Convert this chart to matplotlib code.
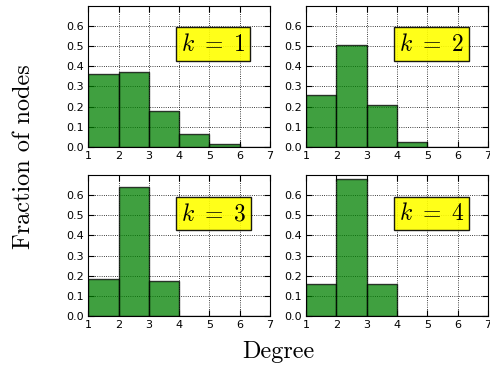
import matplotlib
matplotlib.use('Agg')
import matplotlib.pyplot as plt

# Degree distributions for each k (bins of width 1 from degree 1 to 7)
bin_edges = [1, 2, 3, 4, 5, 6, 7]
k_values = [1, 2, 3, 4]
frac_k1 = [0.362, 0.373, 0.180, 0.062, 0.016, 0.0]
frac_k2 = [0.257, 0.508, 0.206, 0.024, 0.0, 0.0]
frac_k3 = [0.182, 0.640, 0.176, 0.0, 0.0, 0.0]
frac_k4 = [0.160, 0.678, 0.160, 0.0, 0.0, 0.0]
yticks = [0.0, 0.1, 0.2, 0.3, 0.4, 0.5, 0.6]

plt.rcParams['mathtext.fontset'] = 'cm'


def main():
    fig, axes = plt.subplots(2, 2, figsize=(4.9, 3.67), dpi=100)
    fig.subplots_adjust(left=0.18, right=0.996, top=0.984, bottom=0.139,
                        wspace=0.198, hspace=0.2)
    all_fracs = [frac_k1, frac_k2, frac_k3, frac_k4]
    for ax, k, fracs in zip(axes.flat, k_values, all_fracs):
        ax.bar(bin_edges[:-1], fracs, width=1, align='edge',
               color='g', alpha=0.75, edgecolor='k', linewidth=1)
        ax.set_xlim(1, 7)
        ax.set_ylim(0, 0.7)
        ax.set_yticks(yticks)
        ax.set_xticks(bin_edges)
        ax.tick_params(labelsize=8, direction='in', top=True, right=True,
                       length=4, pad=3)
        ax.grid(True, linestyle=':', color='k', linewidth=0.6)
        ax.set_axisbelow(True)
        ax.text(4.05, 0.475, r'$k\ =\ %d$' % k, fontsize=17,
                bbox=dict(facecolor='yellow', edgecolor='k', alpha=0.9,
                          boxstyle='square,pad=0.2'))

    # serif axis labels, Computer Modern look
    fig.text(0.049, 0.572, 'Fraction of nodes', rotation=90,
             ha='center', va='center', fontsize=17.5, family='cmr10')
    fig.text(0.569, 0.041, 'Degree', ha='center', va='center',
             fontsize=17.5, family='cmr10')
    fig.savefig('out.png', dpi=100)


if __name__ == "__main__":
    main()
